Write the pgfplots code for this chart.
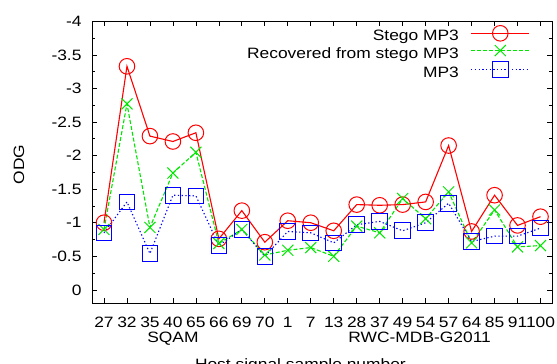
\documentclass[border=0pt]{standalone}
\usepackage{fontspec}
\setmainfont{Liberation Sans}[FakeStretch=1.16]
\usepackage{pgfplots}
\pgfplotsset{compat=1.18}
\definecolor{gpgreen}{RGB}{0,230,0}
\definecolor{gpred}{RGB}{255,0,0}
\definecolor{gpblue}{RGB}{0,0,255}
\begin{document}
\fontsize{15bp}{18bp}\selectfont
\begin{tikzpicture}
\begin{axis}[
  scale only axis, width=459.5bp, height=282bp,
  xmin=-0.5, xmax=19.5, ymin=-4, ymax=0.2, y dir=reverse,
  clip=false,
  xtick={0,1,2,3,4,5,6,7,8,9,10,11,12,13,14,15,16,17,18,19},
  xticklabels={27,32,35,40,65,66,69,70,1,7,13,28,37,49,54,57,64,85,91,100},
  ytick={-4,-3.5,-3,-2.5,-2,-1.5,-1,-0.5,0},
  yticklabels={-4,-3.5,-3,-2.5,-2,-1.5,-1,-0.5,0},
  minor ytick={-3.75,-3.25,-2.75,-2.25,-1.75,-1.25,-0.75,-0.25},
  tick align=inside, major tick length=5bp, minor tick length=3bp,
  every tick/.style={black, line width=0.7bp},
  axis line style={black, line width=0.8bp},
  xticklabel style={anchor=north, inner sep=0pt, yshift=-14bp},
  yticklabel style={anchor=east, inner sep=0pt, xshift=-10.8bp},
  legend plot pos=right,
  legend cell align=right,
  legend style={draw=none, fill=none, inner sep=0pt, outer sep=0pt,
    at={(1,1)}, anchor=north east, xshift=-22bp, yshift=-4.2bp,
    row sep=3.9bp, column sep=11.7bp,
    nodes={inner sep=0pt, text height=11bp, text depth=0bp}},
  legend image code/.code={\draw[#1, mark=none] (0bp,2bp) -- (58.3bp,2bp); \path[#1] plot coordinates {(29.15bp,2bp)};},
]
\addplot[color=gpred, line width=1.1bp, mark=o, mark size=7.8bp, mark options={solid, line width=1bp}] coordinates {
(0,-1.0) (1,-3.33) (2,-2.29) (3,-2.21) (4,-2.34) (5,-0.76) (6,-1.18) (7,-0.71) (8,-1.03) (9,-1.0)
(10,-0.88) (11,-1.27) (12,-1.26) (13,-1.27) (14,-1.31) (15,-2.15) (16,-0.87) (17,-1.41) (18,-0.96) (19,-1.09)};
\addlegendentry{Stego MP3}
\addplot[color=gpgreen, line width=1.1bp, dash pattern=on 4bp off 2bp, mark=x, mark size=7.8bp, mark options={solid, line width=1bp}] coordinates {
(0,-0.9) (1,-2.77) (2,-0.93) (3,-1.74) (4,-2.05) (5,-0.69) (6,-0.9) (7,-0.52) (8,-0.59) (9,-0.63)
(10,-0.5) (11,-0.95) (12,-0.85) (13,-1.36) (14,-1.06) (15,-1.46) (16,-0.70) (17,-1.19) (18,-0.64) (19,-0.66)};
\addlegendentry{Recovered from stego MP3}
\addplot[color=gpblue, line width=1.1bp, dash pattern=on 1.3bp off 2.4bp, mark=square, mark size=7.8bp, mark options={solid, line width=1bp}] coordinates {
(0,-0.85) (1,-1.31) (2,-0.54) (3,-1.41) (4,-1.40) (5,-0.66) (6,-0.9) (7,-0.5) (8,-0.87) (9,-0.85)
(10,-0.7) (11,-0.97) (12,-1.02) (13,-0.88) (14,-1.0) (15,-1.29) (16,-0.72) (17,-0.80) (18,-0.80) (19,-0.92)};
\addlegendentry{MP3}
\node[anchor=base, inner sep=0pt] at (axis cs:3,0.781) {SQAM};
\node[anchor=base, inner sep=0pt] at (axis cs:13.74,0.781) {RWC-MDB-G2011};
\node[anchor=base, inner sep=0pt] at (axis cs:8.55,1.179) {Host signal sample number};
\node[anchor=base, inner sep=0pt, rotate=90] at (axis cs:-3.48,-1.87) {ODG};
\end{axis}
\pgfresetboundingbox
\path (current axis.south west) ++(-92.5bp,-60.7bp) rectangle ++(557bp,364bp);
\end{tikzpicture}
\end{document}
